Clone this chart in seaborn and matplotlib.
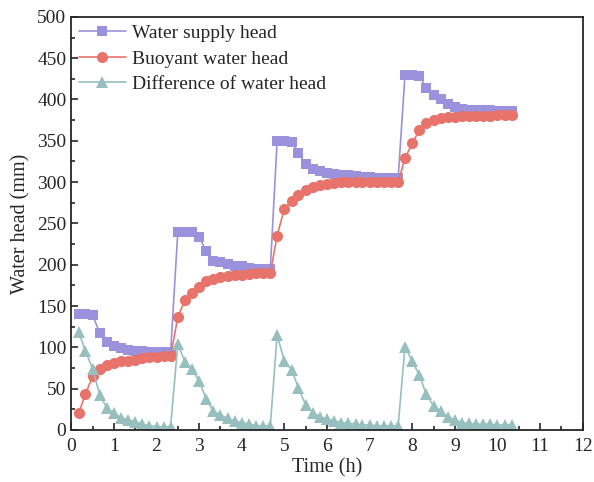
import matplotlib.pyplot as plt
import numpy as np
import pandas as pd
import seaborn as sns

# time (h), one reading every ~10 min, four loading stages
time = [0.17, 0.33, 0.50, 0.67, 0.83, 1.00, 1.17, 1.33, 1.50, 1.67, 1.83, 2.00, 2.17, 2.33,
        2.50, 2.67, 2.83, 3.00, 3.17, 3.33, 3.50, 3.67, 3.83, 4.00, 4.17, 4.33, 4.50, 4.67,
        4.83, 5.00, 5.17, 5.33, 5.50, 5.67, 5.83, 6.00, 6.17, 6.33, 6.50, 6.67, 6.83, 7.00,
        7.17, 7.33, 7.50, 7.67,
        7.83, 8.00, 8.17, 8.33, 8.50, 8.67, 8.83, 9.00, 9.17, 9.33, 9.50, 9.67, 9.83, 10.00,
        10.17, 10.33]

supply = [140, 140, 139, 117, 106, 102, 99, 97, 96, 95, 94, 94, 94, 94,
          240, 240, 240, 233, 217, 205, 203, 201, 199, 198, 196, 195, 195, 195,
          350, 350, 349, 335, 322, 316, 313, 311, 310, 309, 308, 307, 306, 306, 305, 305, 305, 305,
          430, 430, 429, 414, 405, 401, 395, 391, 388, 387, 387, 387, 387, 386, 386, 386]

buoyant = [20, 43, 65, 74, 79, 81, 83, 84, 85, 87, 88, 88, 89, 89,
           137, 157, 166, 173, 180, 183, 185, 186, 187, 188, 189, 190, 190, 190,
           235, 268, 277, 284, 291, 294, 297, 298, 299, 300, 300, 300, 300, 300, 300, 300, 300, 300,
           329, 347, 363, 372, 375, 377, 379, 379, 380, 380, 380, 380, 380, 381, 381, 381]

difference = [119, 96, 74, 42, 27, 20, 15, 12, 10, 7, 5, 4, 4, 4,
              104, 82, 74, 59, 37, 23, 18, 14, 11, 9, 7, 5, 5, 5,
              115, 83, 73, 51, 30, 21, 16, 13, 11, 9, 8, 7, 6, 6, 5, 5, 5, 5,
              101, 83, 66, 43, 29, 23, 16, 12, 9, 8, 7, 7, 7, 6, 6, 6]

df = pd.DataFrame({"time": time, "supply": supply, "buoyant": buoyant, "difference": difference})

sns.set_style("ticks")
plt.rcParams["font.family"] = ["Liberation Serif", "DejaVu Serif"]

fig = plt.figure(figsize=(5.94, 4.82), dpi=100)
ax = fig.add_axes([0.12, 0.108, 0.861, 0.857])

sns.lineplot(data=df, x="time", y="supply", ax=ax, color="#9a92dc", marker="s",
             markersize=7, markeredgewidth=0, lw=1.2, label="Water supply head")
sns.lineplot(data=df, x="time", y="buoyant", ax=ax, color="#e8736a", marker="o",
             markersize=8, markeredgewidth=0, lw=1.2, label="Buoyant water head")
sns.lineplot(data=df, x="time", y="difference", ax=ax, color="#97bfbf", marker="^",
             markersize=8.5, markeredgewidth=0, lw=1.2, label="Difference of water head")

ax.set_xlim(0, 12)
ax.set_ylim(0, 500)
ax.set_xticks(range(0, 13))
ax.set_yticks(range(0, 501, 50))
ax.set_xticks(np.arange(0.5, 12, 1), minor=True)
ax.set_yticks(np.arange(25, 500, 50), minor=True)
ax.tick_params(which="both", direction="in", labelsize=14, width=1.2,
               top=False, right=False)
ax.tick_params(axis="x", which="major", pad=6)
ax.tick_params(which="major", length=5)
ax.tick_params(which="minor", length=3)
for s in ax.spines.values():
    s.set_linewidth(1.3)

ax.set_xlabel("Time (h)", fontsize=14.5, labelpad=2)
ax.set_ylabel("Water head (mm)", fontsize=14.5, labelpad=5)

ax.legend(loc="upper left", frameon=False, fontsize=14, handlelength=2.4,
          borderaxespad=0.2, labelspacing=0.4, handletextpad=0.3, borderpad=0.2)

fig.savefig("out.png", dpi=100)
